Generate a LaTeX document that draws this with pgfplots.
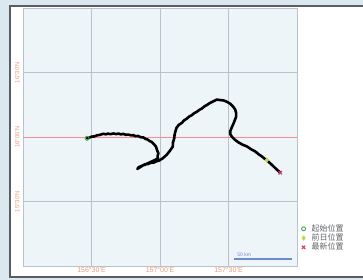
\documentclass[border=0pt]{standalone}
\usepackage{fontspec}
\setmainfont{Liberation Sans}
\newfontfamily\cjk{Noto Sans CJK SC}
\usepackage{pgfplots}
\pgfplotsset{compat=1.18}
\definecolor{bgblue}{HTML}{DCE8F0}
\definecolor{plotbg}{HTML}{EEF5F9}
\definecolor{gridc}{HTML}{B8C2CA}
\definecolor{tickc}{HTML}{E89C78}
\definecolor{framec}{HTML}{5A5E62}
\definecolor{startc}{HTML}{3FA85A}
\definecolor{prevc}{HTML}{C6D648}
\definecolor{lastc}{HTML}{D2406A}
\definecolor{scalec}{HTML}{6A8CCC}
\definecolor{legtext}{HTML}{606468}
\begin{document}
\begin{tikzpicture}
\useasboundingbox (0pt,0pt) rectangle (363pt,280pt);
\fill[bgblue] (0pt,0pt) rectangle (363pt,280pt);
\fill[white] (10pt,3pt) rectangle (363pt,274pt);
\draw[framec,line width=1.4pt] (364pt,274pt) -- (10pt,274pt) -- (10pt,3pt) -- (364pt,3pt);
\begin{axis}[
  at={(23pt,14pt)}, anchor=south west,
  width=274pt, height=258pt, scale only axis,
  xmin=156, xmax=158, ymin=15, ymax=17,
  axis background/.style={fill=plotbg},
  axis line style={gridc, line width=0.6pt},
  xtick={156.5,157,157.5},
  xticklabels={156\textdegree30'E,157\textdegree00'E,157\textdegree30'E},
  ytick={15.5,16.5},
  yticklabels={15\textdegree30'N,16\textdegree30'N},
  extra y ticks={16},
  extra y tick labels={16\textdegree00'N},
  extra y tick style={grid style={color=red!45!white, line width=0.6pt}},
  grid=major,
  grid style={gridc, line width=0.6pt},
  major tick length=0pt,
  tick label style={text=tickc},
  xticklabel style={font=\fontsize{7}{8}\selectfont, yshift=1.5pt},
  yticklabel style={font=\fontsize{6}{7}\selectfont, rotate=90, anchor=south},
  legend style={at={(rel axis cs:1.005,0.04)}, anchor=south west, draw=none, fill=none,
    font=\cjk\fontsize{8}{10}\selectfont, text=legtext, row sep=-3pt,
    /tikz/every odd column/.append style={column sep=4pt}},
  legend cell align=left,
  clip=false,
]
\addplot[forget plot, black, line width=2.6pt, line join=round, line cap=round] coordinates {
(156.468,15.990) (156.485,15.995) (156.500,16.003) (156.520,16.004) (156.537,16.012)
(156.560,16.016) (156.585,16.025) (156.605,16.021) (156.620,16.026) (156.640,16.022)
(156.659,16.027) (156.680,16.023) (156.700,16.026) (156.715,16.020) (156.732,16.024)
(156.750,16.017) (156.770,16.019) (156.790,16.012) (156.805,16.014) (156.822,16.006)
(156.840,16.008) (156.860,15.998) (156.878,15.997) (156.895,15.985) (156.910,15.980)
(156.925,15.968) (156.939,15.962) (156.955,15.945) (156.971,15.925) (156.978,15.900)
(156.988,15.873) (156.982,15.852) (156.985,15.834) (156.960,15.820) (156.939,15.810)
(156.920,15.800) (156.905,15.794) (156.890,15.784) (156.878,15.782) (156.855,15.766)
(156.834,15.752) (156.845,15.766) (156.865,15.775) (156.890,15.788) (156.910,15.790)
(156.927,15.798) (156.955,15.802) (156.975,15.812) (156.995,15.818) (157.020,15.835)
(157.049,15.862) (157.070,15.890) (157.093,15.925) (157.095,15.960) (157.104,15.990)
(157.106,16.015) (157.112,16.041) (157.120,16.070) (157.136,16.093) (157.160,16.110)
(157.175,16.128) (157.195,16.142) (157.215,16.160) (157.230,16.168) (157.250,16.185)
(157.268,16.195) (157.290,16.212) (157.305,16.220) (157.325,16.238) (157.341,16.247)
(157.362,16.262) (157.380,16.272) (157.400,16.282) (157.415,16.290) (157.440,16.286)
(157.463,16.284) (157.490,16.272) (157.512,16.258) (157.532,16.238) (157.549,16.212)
(157.556,16.185) (157.556,16.158) (157.546,16.130) (157.537,16.106) (157.524,16.075)
(157.512,16.043) (157.514,16.020) (157.524,16.003) (157.545,15.980) (157.573,15.958)
(157.600,15.942) (157.634,15.927) (157.665,15.905) (157.695,15.888) (157.720,15.866)
(157.744,15.849) (157.762,15.833) (157.780,15.821) (157.800,15.800) (157.817,15.784)
(157.845,15.755) (157.878,15.723)
};
\addplot[forget plot, scalec, line width=1.2pt] coordinates {(157.54,15.055) (157.96,15.055)};
\node[scalec, font=\fontsize{5}{6}\selectfont, anchor=south west, inner sep=0.5pt] at (axis cs:157.56,15.065) {50 km};
\addplot[only marks, mark=o, mark size=2pt, startc, line width=0.9pt] coordinates {(156.468,15.990)};
\addlegendentry{起始位置}
\addplot[only marks, mark=diamond*, mark size=2.4pt, prevc] coordinates {(157.780,15.821)};
\addlegendentry{前日位置}
\addplot[only marks, mark=x, mark size=2.4pt, lastc, line width=1.1pt] coordinates {(157.878,15.723)};
\addlegendentry{最新位置}
\end{axis}
\end{tikzpicture}
\end{document}
